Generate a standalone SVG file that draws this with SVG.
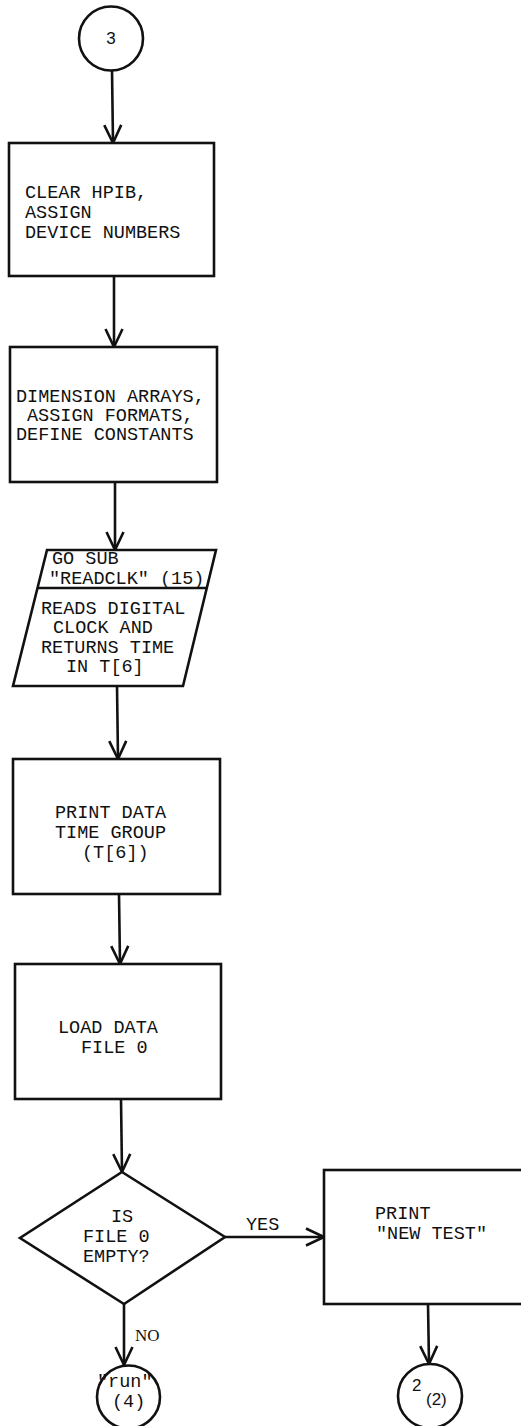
<svg xmlns="http://www.w3.org/2000/svg" width="521" height="1426" viewBox="0 0 521 1426">
<defs>
<style>
.s{fill:#fff;stroke:#111;stroke-width:2.6}
.c{fill:none;stroke:#111;stroke-width:2.6}
.t{font-family:"Liberation Mono","Courier New",monospace;font-size:18.5px;fill:#111}
.n{font-family:"Liberation Sans",Arial,sans-serif;font-size:17px;fill:#111}
.r{font-family:"Liberation Serif","Times New Roman",serif;font-size:17px;fill:#111}
</style>
<marker id="a" markerWidth="24" markerHeight="24" refX="20" refY="10" orient="auto" markerUnits="userSpaceOnUse">
<path d="M2,1.5 L20,10 L2,18.5" fill="none" stroke="#111" stroke-width="2.6"/>
</marker>
</defs>
<rect width="521" height="1426" fill="#fff"/>
<g id="connectors">
<line class="c" x1="112" y1="70" x2="113" y2="143" marker-end="url(#a)"/>
<line class="c" x1="114" y1="276" x2="114" y2="347" marker-end="url(#a)"/>
<line class="c" x1="115" y1="482" x2="115" y2="550" marker-end="url(#a)"/>
<line class="c" x1="117" y1="686" x2="118" y2="759" marker-end="url(#a)"/>
<line class="c" x1="119" y1="894" x2="120" y2="964" marker-end="url(#a)"/>
<line class="c" x1="121" y1="1099" x2="122" y2="1172" marker-end="url(#a)"/>
<line class="c" x1="225" y1="1237" x2="324" y2="1237" marker-end="url(#a)"/>
<line class="c" x1="124" y1="1304" x2="124" y2="1365" marker-end="url(#a)"/>
<line class="c" x1="428" y1="1304" x2="429" y2="1364" marker-end="url(#a)"/>
<text class="t" x="246" y="1230">YES</text>
<text class="r" x="135" y="1341">NO</text>
</g>
<g id="start3">
<circle class="s" cx="111" cy="38.5" r="32"/>
<text class="n" x="111" y="44" text-anchor="middle">3</text>
</g>
<g id="clear">
<rect class="s" x="9" y="143" width="205" height="133"/>
<text class="t" x="25" y="198">CLEAR HPIB,</text>
<text class="t" x="25" y="218">ASSIGN</text>
<text class="t" x="25" y="238">DEVICE NUMBERS</text>
</g>
<g id="dimension">
<rect class="s" x="10" y="347" width="207" height="135"/>
<text class="t" x="16" y="402">DIMENSION ARRAYS,</text>
<text class="t" x="27" y="421">ASSIGN FORMATS,</text>
<text class="t" x="16" y="440">DEFINE CONSTANTS</text>
</g>
<g id="gosub">
<polygon class="s" points="47,550 216,550 183,686 13,686"/>
<line class="c" x1="38" y1="588" x2="207" y2="588"/>
<text class="t" x="52" y="564">GO SUB</text>
<text class="t" x="49" y="584">"READCLK" (15)</text>
<text class="t" x="41" y="614">READS DIGITAL</text>
<text class="t" x="53" y="633">CLOCK AND</text>
<text class="t" x="41" y="653">RETURNS TIME</text>
<text class="t" x="66" y="672">IN T[6]</text>
</g>
<g id="printtime">
<rect class="s" x="13" y="759" width="207" height="135"/>
<text class="t" x="55" y="818">PRINT DATA</text>
<text class="t" x="55" y="838">TIME GROUP</text>
<text class="t" x="82" y="858">(T[6])</text>
</g>
<g id="load">
<rect class="s" x="15" y="964" width="206" height="135"/>
<text class="t" x="58" y="1033">LOAD DATA</text>
<text class="t" x="81" y="1053">FILE 0</text>
</g>
<g id="decision">
<polygon class="s" points="122,1172 225,1237 124,1304 20,1238"/>
<text class="t" x="122" y="1222" text-anchor="middle">IS</text>
<text class="t" x="83" y="1242">FILE 0</text>
<text class="t" x="83" y="1262">EMPTY?</text>
</g>
<g id="newtest">
<rect class="s" x="324" y="1170" width="210" height="134"/>
<text class="t" x="375" y="1219">PRINT</text>
<text class="t" x="376" y="1239">"NEW TEST"</text>
</g>
<g id="run4">
<circle class="s" cx="128.5" cy="1397" r="31.5"/>
<text class="t" x="97" y="1387">"run"</text>
<text class="t" x="112" y="1407">(4)</text>
</g>
<g id="conn2">
<circle class="s" cx="430" cy="1396" r="32"/>
<text class="n" x="412" y="1391">2</text>
<text class="n" x="426" y="1405">(2)</text>
</g>
</svg>
